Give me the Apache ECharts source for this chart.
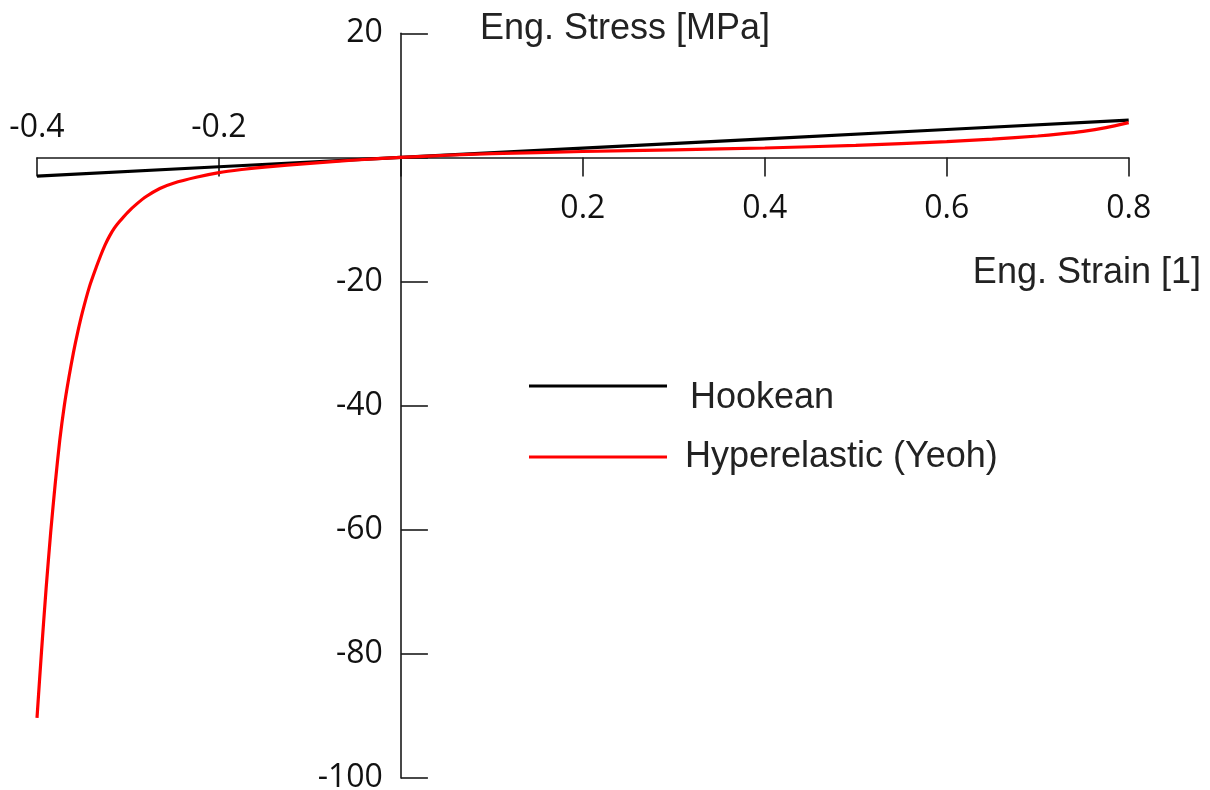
<!DOCTYPE html>
<html>
<head>
<meta charset="utf-8">
<script src="https://cdn.jsdelivr.net/npm/echarts@6/dist/echarts.min.js"></script>
<style>
  html, body { margin: 0; padding: 0; background: #fff; }
  #chart { width: 1210px; height: 790px; }
</style>
</head>
<body>
<div id="chart"></div>
<script>
// Engineering strain [1] vs engineering stress [MPa]
const hookeanStrain = [-0.4, -0.2, 0, 0.2, 0.4, 0.6, 0.8];
const hookeanStress = [-3.0, -1.5, 0, 1.5, 3.0, 4.5, 6.0];

const yeohStrain = [-0.4, -0.395, -0.39, -0.385, -0.38, -0.375, -0.37, -0.365, -0.36, -0.355,
                    -0.35, -0.3425, -0.335, -0.33, -0.325, -0.32, -0.315, -0.31, -0.30, -0.29,
                    -0.28, -0.265, -0.25, -0.225, -0.2, -0.175, -0.15, -0.1, -0.05, 0,
                    0.05, 0.1, 0.2, 0.3, 0.4, 0.5, 0.6, 0.65, 0.7, 0.725, 0.75, 0.775, 0.8];
const yeohStress = [-90.3, -79.5, -69.5, -60.5, -52.6, -45.6, -40.0, -35.5, -31.5, -28.0,
                    -24.9, -20.9, -17.75, -15.8, -14.05, -12.6, -11.4, -10.45, -8.8, -7.45,
                    -6.3, -5.0, -4.15, -3.2, -2.45, -1.95, -1.55, -0.95, -0.42, 0,
                    0.35, 0.6, 0.95, 1.22, 1.52, 1.95, 2.55, 2.95, 3.45, 3.78, 4.2, 4.8, 5.6];

const strainTicks = { min: -0.4, max: 0.8, step: 0.2 };
const stressTicks = { min: -100, max: 20, step: 20 };

const seriesNames = ['Hookean', 'Hyperelastic (Yeoh)'];
const axisTitles = { x: 'Eng. Strain [1]', y: 'Eng. Stress [MPa]' };

const pairs = (xs, ys) => xs.map((x, i) => [x, ys[i]]);

const AXIS_COLOR = '#1a1a1a';
const TEXT_COLOR = '#222';
const TICK_FONT = '"Open Sans", "Noto Sans", sans-serif';
const NAME_FONT = '"Liberation Sans", Arial, sans-serif';

const W = 1210, H = 790;
const GRID = { left: 37, right: 81.3, top: 33.3, bottom: 12 };
const plotW = W - GRID.left - GRID.right;
const plotH = H - GRID.top - GRID.bottom;

// The axes cross at the origin: shift each axis from its grid edge to zero.
const zeroFromLeft = plotW * (0 - strainTicks.min) / (strainTicks.max - strainTicks.min);
const zeroFromTop = plotH * (stressTicks.max - 0) / (stressTicks.max - stressTicks.min);
const zeroFromBottom = plotH - zeroFromTop;

const fmt = v => String(Math.round(v * 10) / 10);

const legendBase = {
  orient: 'vertical',
  left: 529,
  padding: 0,
  icon: 'rect', itemWidth: 138, itemHeight: 3,
  selectedMode: false
};

const chart = echarts.init(document.getElementById('chart'), null, { renderer: 'canvas' });

chart.setOption({
  animation: false,
  backgroundColor: '#fff',
  grid: {
    left: GRID.left, right: GRID.right, top: GRID.top, bottom: GRID.bottom,
    containLabel: false, outerBoundsMode: 'none'
  },
  xAxis: [
    {
      type: 'value',
      position: 'bottom',
      offset: -zeroFromBottom,
      min: strainTicks.min, max: strainTicks.max, interval: strainTicks.step,
      axisLine: { onZero: false, lineStyle: { color: AXIS_COLOR, width: 1.6 } },
      axisTick: { show: true, length: 19, lineStyle: { color: AXIS_COLOR, width: 1.6 } },
      axisLabel: {
        margin: 35,
        fontSize: 32, fontFamily: TICK_FONT, color: '#111',
        formatter: v => (v > 1e-9 ? fmt(v) : '')
      },
      splitLine: { show: false }
    },
    {
      type: 'value',
      position: 'top',
      offset: -zeroFromTop,
      min: strainTicks.min, max: strainTicks.max, interval: strainTicks.step,
      axisLine: { show: false, onZero: false },
      axisTick: { show: false },
      axisLabel: {
        margin: 14,
        fontSize: 32, fontFamily: TICK_FONT, color: '#111',
        formatter: v => (v < -1e-9 ? fmt(v) : '')
      },
      splitLine: { show: false }
    }
  ],
  yAxis: {
    type: 'value',
    position: 'left',
    offset: -zeroFromLeft,
    min: stressTicks.min, max: stressTicks.max, interval: stressTicks.step,
    axisLine: { show: true, onZero: false, lineStyle: { color: AXIS_COLOR, width: 1.6 } },
    axisTick: { show: true, inside: true, length: 27, lineStyle: { color: AXIS_COLOR, width: 1.6 } },
    axisLabel: {
      margin: 18,
      fontSize: 32, fontFamily: TICK_FONT, color: '#111',
      formatter: v => (v === 0 ? '' : String(v))
    },
    splitLine: { show: false }
  },
  legend: [
    Object.assign({}, legendBase, {
      data: [seriesNames[0]],
      top: 356,
      // label sits a little below its line sample
      formatter: name => '\n' + name,
      textStyle: { fontSize: 36, lineHeight: 24, fontFamily: NAME_FONT, color: TEXT_COLOR, padding: [0, 0, 0, 18] }
    }),
    Object.assign({}, legendBase, {
      data: [seriesNames[1]],
      top: 438,
      textStyle: { fontSize: 36, lineHeight: 38, fontFamily: NAME_FONT, color: TEXT_COLOR, padding: [0, 0, 0, 13] }
    })
  ],
  graphic: [
    {
      type: 'text', x: 480, y: 29, silent: true,
      style: {
        text: axisTitles.y, align: 'left', verticalAlign: 'middle',
        font: '36px ' + NAME_FONT, fill: TEXT_COLOR
      }
    },
    {
      type: 'text', x: 1201, y: 273, silent: true,
      style: {
        text: axisTitles.x, align: 'right', verticalAlign: 'middle',
        font: '36px ' + NAME_FONT, fill: TEXT_COLOR
      }
    }
  ],
  series: [
    {
      name: seriesNames[0],
      type: 'line',
      xAxisIndex: 0,
      data: pairs(hookeanStrain, hookeanStress),
      showSymbol: false,
      color: '#000',
      lineStyle: { color: '#000', width: 3.2 },
      z: 2
    },
    {
      name: seriesNames[1],
      type: 'line',
      xAxisIndex: 0,
      data: pairs(yeohStrain, yeohStress),
      showSymbol: false,
      smooth: 0.25,
      color: '#ff0000',
      lineStyle: { color: '#ff0000', width: 3.2 },
      z: 3
    }
  ]
});
</script>
</body>
</html>
